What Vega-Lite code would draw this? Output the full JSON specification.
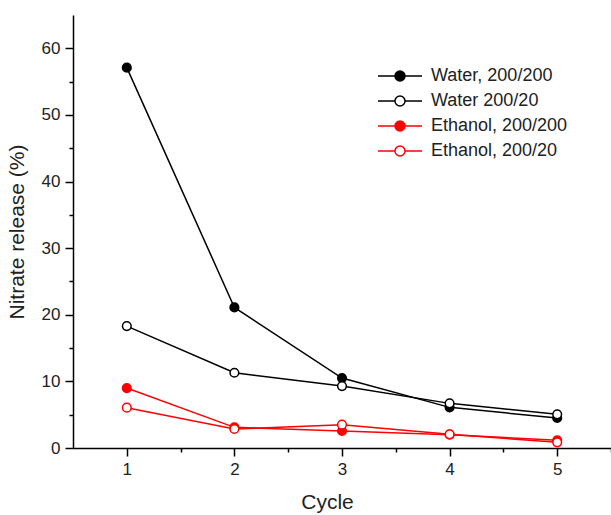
{
  "$schema": "https://vega.github.io/schema/vega-lite/v6.json",
  "width": 538,
  "height": 433,
  "autosize": {"type": "none"},
  "padding": {"left": 73, "top": 15, "right": 0, "bottom": 67},
  "background": "white",
  "config": {
    "view": {"stroke": null},
    "font": "Liberation Sans",
    "axis": {
      "domainColor": "black",
      "domainWidth": 1.5,
      "tickColor": "black",
      "tickWidth": 1.5,
      "labelColor": "#222222",
      "titleColor": "#222222",
      "labelFont": "Liberation Sans",
      "titleFont": "Liberation Sans",
      "titleFontWeight": "normal",
      "grid": false
    },
    "legend": {
      "labelFont": "Liberation Sans",
      "labelColor": "#222222",
      "title": null
    }
  },
  "data": {
    "values": [
      {"series": "Water, 200/200", "cycle": 1, "release": 57.1},
      {"series": "Water, 200/200", "cycle": 2, "release": 21.1},
      {"series": "Water, 200/200", "cycle": 3, "release": 10.5},
      {"series": "Water, 200/200", "cycle": 4, "release": 6.1},
      {"series": "Water, 200/200", "cycle": 5, "release": 4.5},
      {"series": "Water 200/20", "cycle": 1, "release": 18.3},
      {"series": "Water 200/20", "cycle": 2, "release": 11.3},
      {"series": "Water 200/20", "cycle": 3, "release": 9.3},
      {"series": "Water 200/20", "cycle": 4, "release": 6.7},
      {"series": "Water 200/20", "cycle": 5, "release": 5.05},
      {"series": "Ethanol, 200/200", "cycle": 1, "release": 9.0},
      {"series": "Ethanol, 200/200", "cycle": 2, "release": 3.1},
      {"series": "Ethanol, 200/200", "cycle": 3, "release": 2.55},
      {"series": "Ethanol, 200/200", "cycle": 4, "release": 2.0},
      {"series": "Ethanol, 200/200", "cycle": 5, "release": 1.15},
      {"series": "Ethanol, 200/20", "cycle": 1, "release": 6.05},
      {"series": "Ethanol, 200/20", "cycle": 2, "release": 2.85},
      {"series": "Ethanol, 200/20", "cycle": 3, "release": 3.5},
      {"series": "Ethanol, 200/20", "cycle": 4, "release": 2.05},
      {"series": "Ethanol, 200/20", "cycle": 5, "release": 0.85}
    ]
  },
  "layer": [
    {
      "mark": {"type": "line", "strokeWidth": 1.5},
      "encoding": {
        "x": {
          "field": "cycle", "type": "quantitative",
          "scale": {"domain": [0.5, 5.5], "nice": false, "zero": false},
          "axis": {
            "values": [1, 2, 3, 4, 5], "format": "d",
            "title": "Cycle", "titleFontSize": 21, "titlePadding": 14,
            "titleX": 254,
            "labelFontSize": 17, "tickSize": 8, "labelPadding": 5
          }
        },
        "y": {
          "field": "release", "type": "quantitative",
          "scale": {"domain": [0, 65], "nice": false},
          "axis": {
            "values": [0, 10, 20, 30, 40, 50, 60],
            "title": "Nitrate release (%)", "titleFontSize": 21, "titlePadding": 14,
            "labelFontSize": 17, "tickSize": 8, "labelPadding": 5
          }
        },
        "stroke": {
          "field": "series", "type": "nominal",
          "scale": {
            "domain": ["Water, 200/200", "Water 200/20", "Ethanol, 200/200", "Ethanol, 200/20"],
            "range": ["#000000", "#000000", "#ff0000", "#ff0000"]
          },
          "legend": {
            "title": null, "orient": "none", "legendX": 318, "legendY": 52,
            "symbolType": "M-4.4,0L-1,0M1,0A1,1,0,1,1,-1,0A1,1,0,1,1,1,0M1,0L4.4,0",
            "symbolSize": 100, "symbolStrokeWidth": 1.5,
            "labelFontSize": 18, "labelOffset": 22, "rowPadding": 7, "padding": 0
          }
        },
        "detail": {"field": "series", "type": "nominal"}
      }
    },
    {
      "mark": {"type": "point", "shape": "circle", "size": 75, "strokeWidth": 1.5, "opacity": 1},
      "encoding": {
        "x": {"field": "cycle", "type": "quantitative", "axis": null},
        "y": {"field": "release", "type": "quantitative", "axis": null},
        "stroke": {
          "field": "series", "type": "nominal",
          "scale": {
            "domain": ["Water, 200/200", "Water 200/20", "Ethanol, 200/200", "Ethanol, 200/20"],
            "range": ["#000000", "#000000", "#ff0000", "#ff0000"]
          },
          "legend": {
            "title": null, "orient": "none", "legendX": 318, "legendY": 52,
            "symbolType": "M-4.4,0L-1,0M1,0A1,1,0,1,1,-1,0A1,1,0,1,1,1,0M1,0L4.4,0",
            "symbolSize": 100, "symbolStrokeWidth": 1.5,
            "labelFontSize": 18, "labelOffset": 22, "rowPadding": 7, "padding": 0
          }
        },
        "fill": {
          "field": "series", "type": "nominal",
          "scale": {
            "domain": ["Water, 200/200", "Water 200/20", "Ethanol, 200/200", "Ethanol, 200/20"],
            "range": ["#000000", "#ffffff", "#ff0000", "#ffffff"]
          },
          "legend": {
            "title": null, "orient": "none", "legendX": 318, "legendY": 52,
            "symbolType": "M-4.4,0L-1,0M1,0A1,1,0,1,1,-1,0A1,1,0,1,1,1,0M1,0L4.4,0",
            "symbolSize": 100, "symbolStrokeWidth": 1.5,
            "labelFontSize": 18, "labelOffset": 22, "rowPadding": 7, "padding": 0
          }
        }
      }
    },
    {
      "mark": {"type": "tick", "opacity": 0},
      "encoding": {
        "x": {
          "field": "cycle", "type": "quantitative",
          "axis": {
            "values": [1.5, 2.5, 3.5, 4.5, 5.5], "labels": false, "domain": false,
            "tickSize": 4, "title": null, "orient": "bottom"
          }
        },
        "y": {
          "field": "release", "type": "quantitative",
          "axis": {
            "values": [5, 15, 25, 35, 45, 55], "labels": false, "domain": false,
            "tickSize": 4, "title": null, "orient": "left"
          }
        }
      }
    }
  ],
  "resolve": {"axis": {"x": "independent", "y": "independent"}}
}
